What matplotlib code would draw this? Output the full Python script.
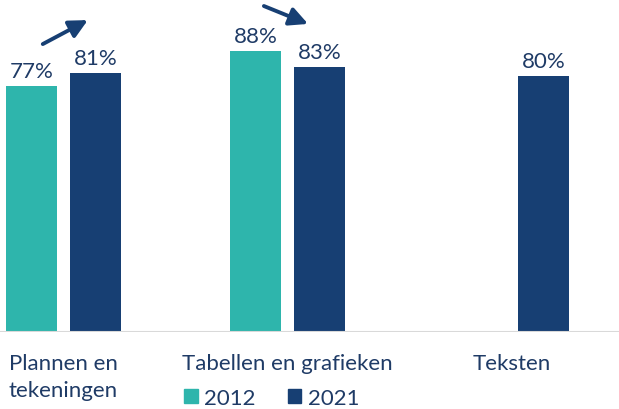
import numpy as np
import matplotlib
matplotlib.use("Agg")
import matplotlib.pyplot as plt
from matplotlib.patches import Patch

categories = ["Plannen en\ntekeningen", "Tabellen en grafieken", "Teksten"]
vals_2012 = [77, 88, None]
vals_2021 = [81, 83, 80]
years = ["2012", "2021"]

TEAL = "#2EB5AC"
NAVY = "#173F73"
TXT = "#1F3B66"
FONT = ["Lato", "DejaVu Sans"]

fig = plt.figure(figsize=(6.19, 4.10), dpi=100)
ax = fig.add_axes([0, 77 / 410, 1, 333 / 410])

x = np.arange(len(categories))
w, off = 0.228, 0.143
for xi, v in zip(x, vals_2012):
    if v is None:
        continue
    ax.bar(xi - off, v, w, color=TEAL)
    ax.text(xi - off, v + 1.6, f"{v}%", ha="center", va="bottom", color=TXT, fontsize=16, family=FONT)
for xi, v in zip(x, vals_2021):
    ax.bar(xi + off, v, w, color=NAVY)
    ax.text(xi + off, v + 1.6, f"{v}%", ha="center", va="bottom", color=TXT, fontsize=16, family=FONT)

# trend arrows
arrow = dict(arrowstyle="-|>,head_length=1.1,head_width=0.55", color=NAVY, lw=2.8,
             shrinkA=0, shrinkB=0)
ax.annotate("", xy=(0.109, 97.6), xytext=(-0.092, 90.1), arrowprops=arrow)
ax.annotate("", xy=(1.092, 96.4), xytext=(0.895, 102), arrowprops=arrow)

ax.set_xlim(-0.283, 2.48)
ax.set_ylim(0, 104.2)
ax.axis("off")
ax.axhline(0, color="#D9D9D9", lw=1.5)

for xi, lab in zip(x, categories):
    ax.text(xi, -6.6, lab, ha="center", va="top", color=TXT, fontsize=16,
            family=FONT, linespacing=1.46)

handles = [Patch(color=TEAL), Patch(color=NAVY)]
fig.legend(handles, years, loc="center", bbox_to_anchor=(272 / 619, 0.027), ncol=2, frameon=False,
           prop={"family": FONT, "size": 16}, labelcolor=TXT, handlelength=0.6, handleheight=0.6,
           handletextpad=0.3, columnspacing=1.45, borderpad=0)

fig.savefig("out.png", dpi=100)
